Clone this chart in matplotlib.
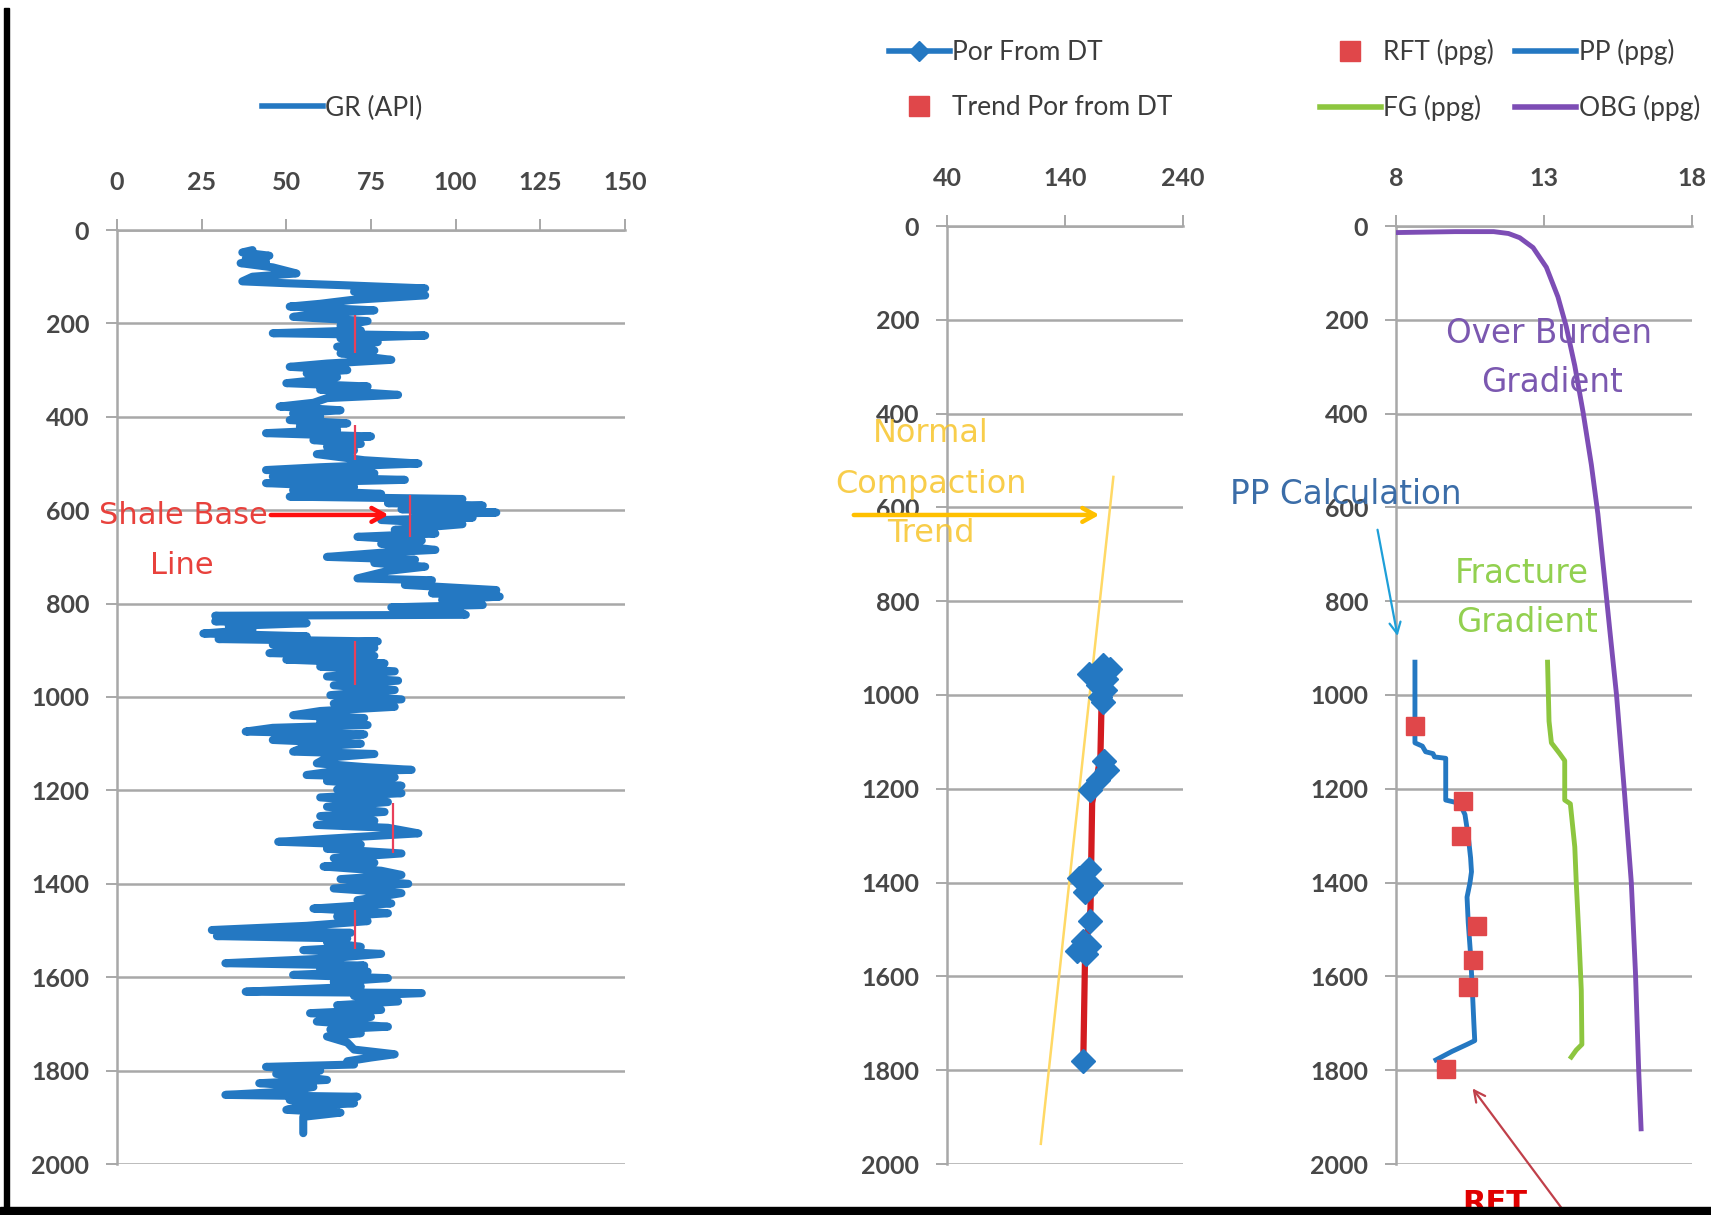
import matplotlib
matplotlib.use('Agg')
import matplotlib.pyplot as plt
from matplotlib.lines import Line2D
from matplotlib.patches import Rectangle

plt.rcParams['font.family'] = ['Lato', 'DejaVu Sans']

# ---- GR track (depth, API)
gr_depth = [43, 48, 55, 62, 68, 71, 80, 93, 100, 110,
            114, 118, 125, 132, 140, 150, 158, 164, 172, 180,
            186, 195, 205, 215, 221, 226, 232, 240, 250, 258,
            264, 270, 278, 286, 293, 300, 307, 315, 322, 328,
            335, 342, 353, 360, 370, 378, 386, 393, 400, 407,
            414, 421, 428, 435, 442, 450, 458, 464, 472, 480,
            493, 500, 508, 514, 521, 528, 535, 542, 550, 557,
            565, 571, 576, 585, 590, 598, 605, 610, 616, 621,
            630, 642, 650, 657, 665, 672, 685, 690, 700, 706,
            713, 721, 730, 746, 750, 760, 771, 778, 785, 792,
            803, 808, 815, 824, 826, 832, 838, 842, 848, 856,
            864, 870, 876, 881, 888, 895, 906, 912, 920, 928,
            935, 945, 956, 965, 975, 985, 996, 1005, 1014, 1021,
            1030, 1039, 1045, 1052, 1060, 1066, 1074, 1080, 1088, 1092,
            1100, 1108, 1117, 1122, 1130, 1142, 1150, 1156, 1160, 1167,
            1172, 1180, 1190, 1198, 1206, 1215, 1225, 1235, 1246, 1255,
            1265, 1274, 1280, 1292, 1300, 1310, 1316, 1325, 1335, 1345,
            1355, 1363, 1372, 1381, 1390, 1400, 1410, 1420, 1435, 1442,
            1453, 1458, 1463, 1470, 1480, 1490, 1499, 1505, 1512, 1517,
            1525, 1535, 1542, 1550, 1560, 1570, 1575, 1582, 1588, 1595,
            1602, 1610, 1620, 1631, 1634, 1640, 1652, 1660, 1670, 1677,
            1685, 1695, 1706, 1712, 1720, 1727, 1740, 1755, 1765, 1772,
            1780, 1787, 1792, 1800, 1807, 1813, 1820, 1827, 1835, 1845,
            1852, 1856, 1863, 1870, 1877, 1884, 1890, 1899, 1915, 1934]
gr_api = [40, 37, 45, 38, 44, 36.5, 46, 53, 40, 37,
          50, 66, 91, 70, 91, 69, 60, 51, 76, 58,
          52, 74, 66, 72, 46, 91, 66, 77, 65, 76,
          66, 72, 81, 62, 51, 68, 56, 65, 58, 50,
          74, 60, 83, 62, 58, 48, 66, 52, 60, 51,
          68, 54, 65, 44, 75, 58, 72, 62, 70, 59,
          73, 89, 60, 44, 76, 46, 85, 44, 70, 52,
          78, 51, 102, 80, 108, 84, 112, 88, 105, 78,
          102, 82, 94, 71, 90, 78, 94, 80, 62, 88,
          76, 91, 80, 71, 93, 85, 112, 93, 113, 96,
          108, 81, 100, 103, 29, 40, 29, 56, 33, 40,
          25.5, 56, 30, 77, 46, 76, 45, 76, 50, 79,
          60, 82, 62, 83, 64, 82, 63, 84, 64, 82,
          60, 52, 73, 60, 74, 46, 38, 73, 56, 46,
          72, 55, 52, 76, 62, 59, 73, 87, 63, 56,
          82, 62, 84, 65, 84, 60, 80, 62, 79, 60,
          76, 59, 80, 89, 70, 47.6, 72, 62, 84, 64,
          76, 61, 78, 84, 66, 86, 64, 84, 71, 81,
          58, 71, 80, 65, 74, 56, 28, 69, 29.5, 68,
          62, 72, 55, 78, 62, 32, 73, 60, 74, 52,
          80, 64, 72, 38, 90, 70, 83, 65, 78, 57,
          75, 59, 80, 63, 72, 62, 68, 70, 82, 75,
          68, 70, 44, 60, 47, 54, 62, 42, 58, 50,
          32, 71, 51, 70, 54, 50, 66, 55, 55, 55]

# shale base line marks
sbl_gr = [70.3, 70.3, 86.5, 70.3, 81.5, 70.3]
sbl_top = [182, 417, 567, 880, 1228, 1456]
sbl_base = [264, 493, 657, 975, 1335, 1540]

# ---- porosity track
por_depth = [937, 945, 955, 965, 978, 990, 1005, 1015,
             1140, 1160, 1181, 1203,
             1371, 1390, 1405, 1420, 1481,
             1525, 1535, 1545, 1553, 1781]
por_dt = [172, 178, 160, 175, 168, 174, 170, 172,
          173, 176, 168, 161,
          160, 152, 162, 157, 161.6,
          155, 160, 150, 158, 155.5]
trend_depth = [1015, 1133, 1230, 1457, 1555, 1781]
trend_dt = [171, 170, 163, 161.6, 157, 155.5]
ncl_depth = [535, 1957]
ncl_dt = [181, 119.5]

# ---- pressure track (ppg)
pp_depth = [930, 1102, 1109, 1121, 1125, 1132, 1135, 1224, 1228, 1232, 1255, 1301,
            1347, 1377, 1400, 1431, 1485, 1554, 1630, 1699, 1737, 1745, 1760, 1778]
pp_ppg = [8.64, 8.64, 8.89, 9.0, 9.25, 9.3, 9.68, 9.68, 9.95, 10.16, 10.33, 10.44,
          10.52, 10.55, 10.5, 10.4, 10.44, 10.52, 10.58, 10.63, 10.66, 10.4, 9.89, 9.35]
rft_depth = [1067, 1226, 1301, 1492, 1565, 1622, 1797]
rft_ppg = [8.64, 10.27, 10.21, 10.72, 10.61, 10.44, 9.69]
fg_depth = [930, 1056, 1102, 1125, 1140, 1224, 1232, 1324, 1400, 1515, 1630, 1745, 1757, 1772]
fg_ppg = [13.12, 13.17, 13.25, 13.53, 13.7, 13.7, 13.89, 14.04, 14.09, 14.18, 14.26, 14.28, 14.09, 13.92]
obg_depth = [14, 12, 12, 16, 25, 46, 88, 151, 214, 298, 397, 509, 614, 754, 860, 1000,
             1209, 1400, 1592, 1802, 1925]
obg_ppg = [8.0, 10.0, 11.3, 11.8, 12.18, 12.63, 13.08, 13.47, 13.75, 14.04, 14.32, 14.6,
           14.82, 15.05, 15.22, 15.45, 15.72, 15.95, 16.09, 16.2, 16.28]

depth_ticks = list(range(0, 2001, 200))

BLUE = '#2478C2'
RED = '#D31B20'
SQ = '#E0474A'
GREEN = '#8DC63F'
PURPLE = '#7D4DB5'
GRID = '#A8A8A8'
TXT = '#3C3C3C'

W, H = 1711, 1215
fig = plt.figure(figsize=(W / 100, H / 100), dpi=100)


def box(left, top, right, bottom):
    return [left / W, 1 - bottom / H, (right - left) / W, (bottom - top) / H]


def fp(x, y):
    return (x / W, 1 - y / H)


def style_track(ax, xlim, xticks):
    ax.set_xlim(*xlim)
    ax.set_ylim(2000, 0)
    ax.set_xticks(xticks)
    ax.set_yticks(depth_ticks)
    ax.xaxis.tick_top()
    ax.tick_params(axis='x', direction='out', length=8, width=1.4, color=GRID,
                   labelsize=18, labelcolor='#474747', pad=18)
    ax.tick_params(axis='y', direction='out', length=8, width=1.4, color=GRID,
                   labelsize=18, labelcolor='#474747', pad=12)
    for lab in ax.get_xticklabels() + ax.get_yticklabels():
        lab.set_fontweight('bold')
    ax.grid(axis='y', color=GRID, lw=1.8)
    ax.set_axisbelow(True)
    for s in ['right', 'bottom']:
        ax.spines[s].set_visible(False)
    for s in ['left', 'top']:
        ax.spines[s].set_color(GRID)
        ax.spines[s].set_linewidth(1.8)


leg_kw = dict(frameon=False, fontsize=19, handlelength=2.3, handletextpad=0.1,
              borderpad=0, borderaxespad=0, labelcolor=TXT)

# GR track
ax1 = fig.add_axes(box(117, 230, 625, 1164))
style_track(ax1, (0, 150), [0, 25, 50, 75, 100, 125, 150])
ax1.plot(gr_api, gr_depth, color=BLUE, lw=5.8, solid_joinstyle='round',
         solid_capstyle='round')
ax1.vlines(sbl_gr, sbl_top, sbl_base, color='#E8405A', lw=1.6, zorder=3)
ax1.annotate('', xy=(81, 610), xycoords='data', xytext=fp(268, 515),
             textcoords='figure fraction',
             arrowprops=dict(arrowstyle='->,head_length=0.9,head_width=0.5',
                             color='#FF1010', lw=3.2), zorder=4)
fig.text(*fp(183, 515), 'Shale Base', color='#E8413C', fontsize=22,
         family='DejaVu Sans', ha='center', va='center')
fig.text(*fp(182, 565), 'Line', color='#E8413C', fontsize=22,
         family='DejaVu Sans', ha='center', va='center')
fig.legend(handles=[Line2D([], [], color=BLUE, lw=4)], labels=['GR (API)'],
           loc='center left', bbox_to_anchor=fp(262, 108), **leg_kw)

# porosity track
ax2 = fig.add_axes(box(947, 226, 1183, 1164))
style_track(ax2, (40, 240), [40, 140, 240])
ax2.plot(ncl_dt, ncl_depth, color='#FFD966', lw=1.8, zorder=2)
ax2.plot(trend_dt, trend_depth, color=RED, lw=4.5, zorder=3)
ax2.plot(por_dt, por_depth, 'D', color=BLUE, ms=12, ls='none', zorder=4)
ax2.annotate('', xy=(171.5, 616), xycoords='data', xytext=fp(851, 515),
             textcoords='figure fraction',
             arrowprops=dict(arrowstyle='->,head_length=0.9,head_width=0.5',
                             color='#FFC000', lw=3.2), zorder=5)
for txt, yy in [('Normal', 434), ('Compaction', 484), ('Trend', 534)]:
    fig.text(*fp(931, yy), txt, color='#F7C52B', fontsize=23, alpha=0.85,
             family='DejaVu Sans', ha='center', va='center', zorder=6)
por_handles = [Line2D([], [], color=BLUE, lw=4, marker='D', ms=10),
               Line2D([], [], color=SQ, marker='s', ls='none', ms=14)]
fig.legend(handles=por_handles, labels=['Por From DT', 'Trend Por from DT'],
           loc='center left', bbox_to_anchor=fp(889, 80), labelspacing=1.15,
           **leg_kw)

# pressure track
ax3 = fig.add_axes(box(1396, 226, 1692, 1164))
style_track(ax3, (8, 18), [8, 13, 18])
ax3.plot(obg_ppg, obg_depth, color=PURPLE, lw=3.5, zorder=3)
ax3.plot(fg_ppg, fg_depth, color=GREEN, lw=3.5, zorder=3)
ax3.plot(pp_ppg, pp_depth, color=BLUE, lw=3.5, zorder=3)
ax3.plot(rft_ppg, rft_depth, 's', color=SQ, ms=13, ls='none', zorder=4)
fig.text(*fp(1549, 333), 'Over Burden', color='#7B58B0', fontsize=23.5,
         family='DejaVu Sans', ha='center', va='center', zorder=6)
fig.text(*fp(1552, 382), 'Gradient', color='#7B58B0', fontsize=23.5,
         family='DejaVu Sans', ha='center', va='center', zorder=6)
fig.text(*fp(1346, 494), 'PP Calculation', color='#3B6DA8', fontsize=23.5,
         family='DejaVu Sans', ha='center', va='center', zorder=6)
fig.text(*fp(1522, 573), 'Fracture', color='#92D050', fontsize=23.5,
         family='DejaVu Sans', ha='center', va='center', zorder=6)
fig.text(*fp(1527, 623), 'Gradient', color='#92D050', fontsize=23.5,
         family='DejaVu Sans', ha='center', va='center', zorder=6)
ax3.annotate('', xy=(8.07, 880), xycoords='data', xytext=fp(1377, 527),
             textcoords='figure fraction', annotation_clip=False,
             arrowprops=dict(arrowstyle='->,head_length=0.8,head_width=0.4',
                             color='#1E9FD8', lw=1.6))
ax3.annotate('', xy=(10.53, 1834), xycoords='data', xytext=fp(1563, 1210),
             textcoords='figure fraction', annotation_clip=False,
             arrowprops=dict(arrowstyle='->,head_length=0.8,head_width=0.4',
                             color='#C0404A', lw=1.6))
fig.text(*fp(1495, 1203), 'RFT', color='#E00000', fontsize=22, fontweight='bold',
         family='DejaVu Sans', ha='center', va='center', zorder=5)
ppg_handles = [Line2D([], [], color=SQ, marker='s', ls='none', ms=14),
               Line2D([], [], color=GREEN, lw=4),
               Line2D([], [], color=BLUE, lw=4),
               Line2D([], [], color=PURPLE, lw=4)]
fig.legend(handles=ppg_handles, labels=['RFT (ppg)', 'FG (ppg)', 'PP (ppg)', 'OBG (ppg)'],
           ncol=2, loc='center left', bbox_to_anchor=fp(1320, 80),
           labelspacing=1.15, columnspacing=0.8, **leg_kw)

# scanned frame edges
fig.add_artist(Rectangle((4 / W, 0), 5 / W, 1 - 8 / H, transform=fig.transFigure,
                         color='black', zorder=10))
fig.add_artist(Rectangle((0, 0), 1, 8 / H, transform=fig.transFigure,
                         color='black', zorder=10))

fig.savefig('out.png', dpi=100)
